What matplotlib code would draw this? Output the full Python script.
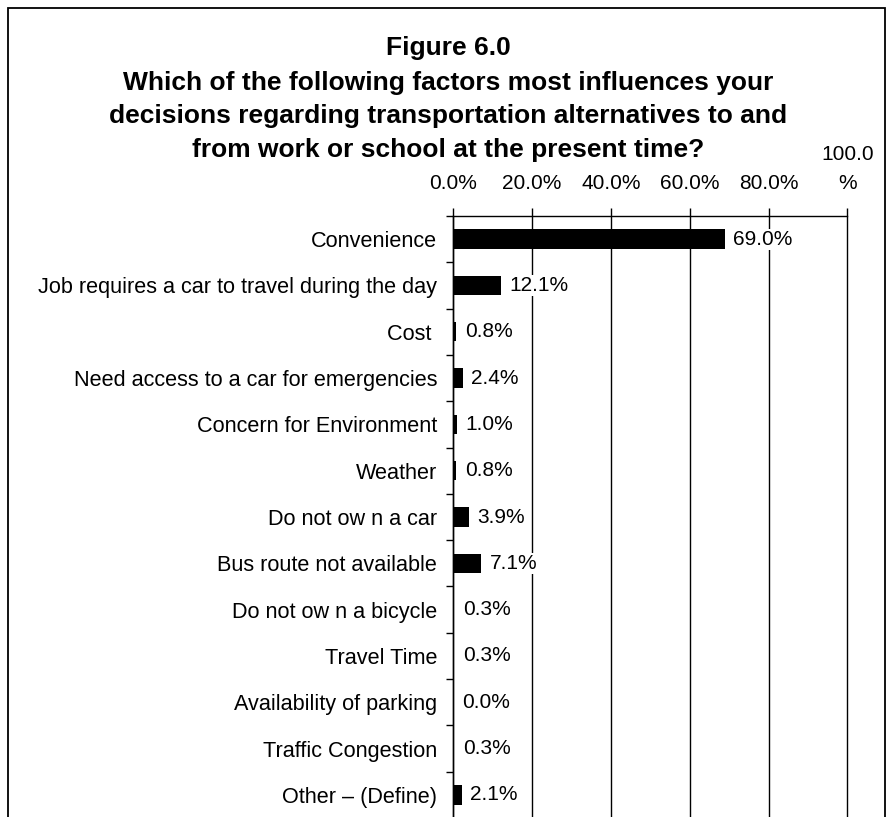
import matplotlib
matplotlib.use('Agg')
import matplotlib.pyplot as plt
from matplotlib.patches import Rectangle
from matplotlib.ticker import FixedLocator

plt.rcParams['font.family'] = ['Liberation Sans', 'DejaVu Sans']

factors = [
    'Convenience',
    'Job requires a car to travel during the day',
    'Cost ',
    'Need access to a car for emergencies',
    'Concern for Environment',
    'Weather',
    'Do not ow n a car',
    'Bus route not available',
    'Do not ow n a bicycle',
    'Travel Time',
    'Availability of parking',
    'Traffic Congestion',
    'Other \u2013 (Define)',
]
percent = [69.0, 12.1, 0.8, 2.4, 1.0, 0.8, 3.9, 7.1, 0.3, 0.3, 0.0, 0.3, 2.1]
x_ticks = [0, 20, 40, 60, 80, 100]
x_tick_labels = ['0.0%', '20.0%', '40.0%', '60.0%', '80.0%', '100.0\n%']
title_lines = [
    'Figure 6.0',
    'Which of the following factors most influences your',
    'decisions regarding transportation alternatives to and',
    'from work or school at the present time?',
]

W, H = 888, 817
fig = plt.figure(figsize=(W / 100, H / 100), dpi=100)

# outer chart border (runs off the bottom edge)
fig.patches.append(Rectangle((8 / W, -0.05), 877 / W, 1.05 - 8 / H,
                             transform=fig.transFigure, fill=False,
                             edgecolor='black', linewidth=1.3))

# title, one line at a time
baselines = [55, 90, 123, 157]
for line, yb in zip(title_lines, baselines):
    fig.text(448 / W, 1 - yb / H, line, ha='center', va='baseline',
             fontsize=19, fontweight='bold')

ax = fig.add_axes([453.3 / W, 1 - 818 / H, 394 / W, 602 / H])

y = list(range(len(factors)))
ax.barh(y, percent, height=0.42, color='black', zorder=3)

ax.set_xlim(0, 100)
ax.set_ylim(len(factors) - 0.5, -0.5)

# vertical gridlines, unclipped so the 100% line shows at the edge
ax.vlines(x_ticks, len(factors) - 0.5, -0.5, color='black',
          linewidth=1, zorder=1, clip_on=False)

# value labels with white backing so gridlines break behind them
for yi, v in zip(y, percent):
    ax.annotate(f'{v:.1f}%', xy=(v, yi), xytext=(6, 0),
                textcoords='offset points', ha='left', va='center',
                fontsize=15, zorder=4,
                bbox=dict(boxstyle='square,pad=0.05', fc='white', ec='none'))

ax.xaxis.tick_top()
ax.set_xticks(x_ticks)
ax.set_xticklabels(x_tick_labels, fontsize=15, linespacing=1.65)
ax.tick_params(axis='x', direction='out', length=6, width=1, pad=10.5)

ax.set_yticks(y)
ax.set_yticklabels(factors, fontsize=15.6)
ax.yaxis.set_minor_locator(FixedLocator([i - 0.5 for i in range(len(factors) + 1)]))
ax.tick_params(axis='y', which='major', length=0, pad=11.5)
ax.tick_params(axis='y', which='minor', direction='out', length=5, width=1)

for side in ['bottom', 'right']:
    ax.spines[side].set_visible(False)
ax.spines['top'].set_linewidth(1)
ax.spines['left'].set_linewidth(1)

fig.savefig('out.png', dpi=100)
